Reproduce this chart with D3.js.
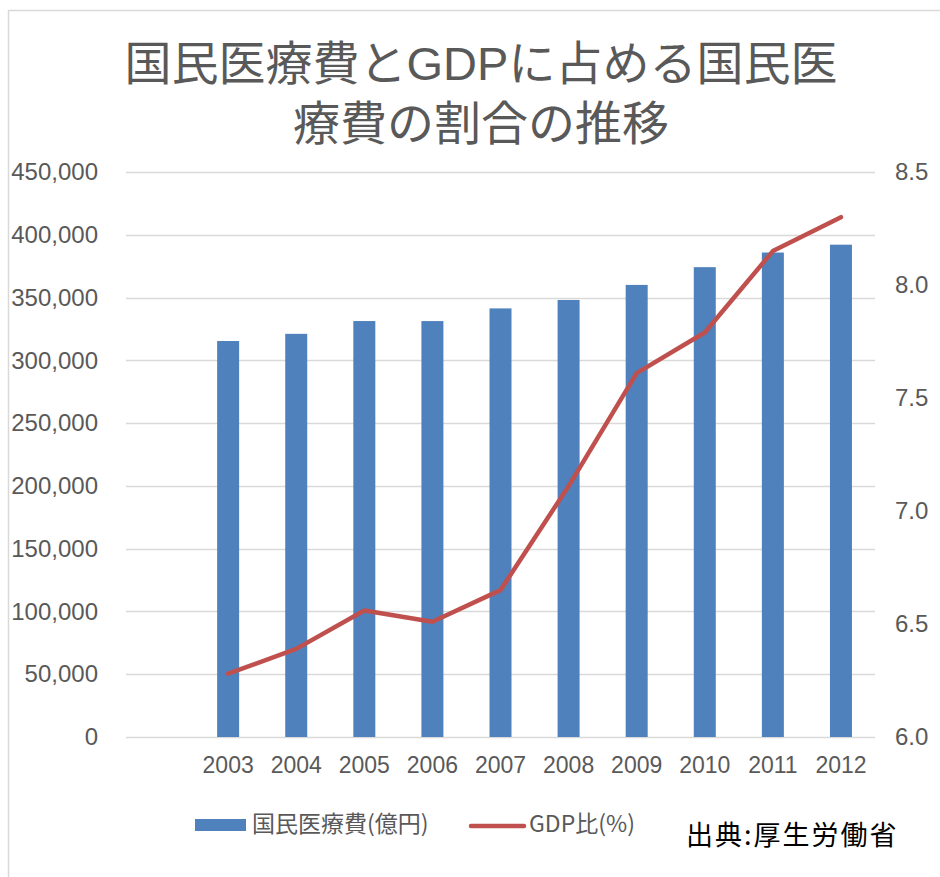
<!DOCTYPE html>
<html lang="ja">
<head>
    <meta charset="UTF-8">
    <title>国民医療費とGDPに占める国民医療費の割合の推移</title>
    <style>
        body { margin: 0; background: #ffffff; }
        svg { display: block; font-family: "Noto Sans CJK JP", "Liberation Sans", sans-serif; }
    </style>
    <script src="https://d3js.org/d3.v7.min.js"></script>
</head>
<body>
    <svg width="940" height="877"></svg>
    <script>
        // data
        const years = ["", "2003", "2004", "2005", "2006", "2007", "2008", "2009", "2010", "2011", "2012"];
        const expense = [null, 315375, 321111, 331289, 331276, 341360, 348084, 360067, 374202, 385850, 392117];
        const gdpRatio = [null, 6.28, 6.39, 6.56, 6.51, 6.65, 7.11, 7.61, 7.79, 8.15, 8.30];
        const leftTicks = [0, 50000, 100000, 150000, 200000, 250000, 300000, 350000, 400000, 450000];
        const rightTicks = [6.0, 6.5, 7.0, 7.5, 8.0, 8.5];

        const svg = d3.select("svg");
        const plotLeft = 126, plotRight = 875, plotTop = 172, plotBottom = 737;
        const grey = "#595959";
        const latin = "'Liberation Sans', Arial, sans-serif";

        // chart frame
        svg.append("rect")
            .attr("x", 8.5).attr("y", 10.5)
            .attr("width", 940).attr("height", 880)
            .attr("fill", "none").attr("stroke", "#d9d9d9").attr("stroke-width", 1.5);

        const x = d3.scaleBand().domain(years.map((d, i) => i)).range([plotLeft, plotRight]);
        const yL = d3.scaleLinear().domain([0, 450000]).range([plotBottom, plotTop]);
        const yR = d3.scaleLinear().domain([6.0, 8.5]).range([plotBottom, plotTop]);

        // gridlines
        svg.append("g").selectAll("line").data(leftTicks).join("line")
            .attr("x1", plotLeft).attr("x2", plotRight)
            .attr("y1", d => Math.round(yL(d)) + 0.5).attr("y2", d => Math.round(yL(d)) + 0.5)
            .attr("stroke", "#d9d9d9").attr("stroke-width", 1.5);

        // left axis
        const axL = svg.append("g")
            .attr("transform", `translate(${plotLeft - 28},0)`)
            .call(d3.axisLeft(yL).tickValues(leftTicks).tickFormat(d3.format(",")).tickSize(0).tickPadding(0));
        axL.select(".domain").remove();
        axL.selectAll("text").attr("fill", grey).style("font-family", latin).style("font-size", "24px");

        // right axis
        const axR = svg.append("g")
            .attr("transform", `translate(${plotRight + 20},0)`)
            .call(d3.axisRight(yR).tickValues(rightTicks).tickFormat(d3.format(".1f")).tickSize(0).tickPadding(0));
        axR.select(".domain").remove();
        axR.selectAll("text").attr("fill", grey).style("font-family", latin).style("font-size", "24px");

        // x axis
        const axX = svg.append("g")
            .attr("transform", `translate(0,${plotBottom + 19})`)
            .call(d3.axisBottom(x).tickFormat(i => years[i]).tickSize(0).tickPadding(0));
        axX.select(".domain").remove();
        axX.selectAll("text").attr("fill", grey).attr("dy", "0.72em").style("font-family", latin).style("font-size", "23px");

        // bars
        const barW = 22;
        svg.append("g").selectAll("rect").data(expense.map((v, i) => ({ v, i })).filter(d => d.v !== null)).join("rect")
            .attr("x", d => x(d.i) + x.bandwidth() / 2 - barW / 2)
            .attr("width", barW)
            .attr("y", d => yL(d.v))
            .attr("height", d => plotBottom - yL(d.v))
            .attr("fill", "#4f81bd");

        // line
        const line = d3.line()
            .defined(d => d.v !== null)
            .x(d => x(d.i) + x.bandwidth() / 2)
            .y(d => yR(d.v));
        svg.append("path")
            .datum(gdpRatio.map((v, i) => ({ v, i })))
            .attr("d", line)
            .attr("fill", "none")
            .attr("stroke", "#c0504d")
            .attr("stroke-width", 4.5)
            .attr("stroke-linecap", "round")
            .attr("stroke-linejoin", "round");

        // title (two lines); latin font first keeps the line boxes tight
        const titleFont = "'Liberation Sans', 'Noto Sans CJK JP', sans-serif";
        svg.append("text")
            .attr("x", 481).attr("y", 80)
            .attr("text-anchor", "middle").attr("fill", grey)
            .style("font-family", titleFont)
            .style("font-size", "47px")
            .text("国民医療費とGDPに占める国民医");
        svg.append("text")
            .attr("x", 481).attr("y", 140)
            .attr("text-anchor", "middle").attr("fill", grey)
            .style("font-family", titleFont)
            .style("font-size", "47px")
            .text("療費の割合の推移");

        // legend
        const lg = svg.append("g").style("font-size", "23px");
        lg.append("rect").attr("x", 195).attr("y", 819).attr("width", 51).attr("height", 12).attr("fill", "#4f81bd");
        lg.append("text").attr("x", 252).attr("y", 832).attr("fill", grey).text("国民医療費(億円)");
        lg.append("line").attr("x1", 471).attr("x2", 524).attr("y1", 826).attr("y2", 826)
            .attr("stroke", "#c0504d").attr("stroke-width", 4.5).attr("stroke-linecap", "round");
        lg.append("text").attr("x", 529).attr("y", 832).attr("fill", grey).text("GDP比(%)");

        svg.append("text")
            .attr("x", 686).attr("y", 845)
            .attr("fill", "#000000")
            .style("font-size", "27px")
            .style("letter-spacing", "2px")
            .text("出典:厚生労働省");
    </script>
</body>
</html>
